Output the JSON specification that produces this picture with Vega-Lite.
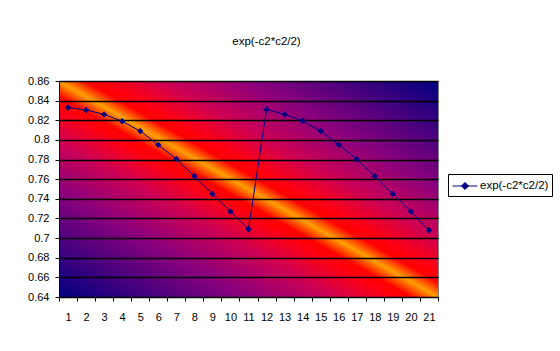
{
  "$schema": "https://vega.github.io/schema/vega-lite/v6.json",
  "width": 379,
  "height": 216,
  "autosize": {"type": "none"},
  "padding": {"left": 59, "top": 81, "right": 122, "bottom": 54},
  "background": "white",
  "data": {
    "values": [
      {"c": 1, "v": 0.833, "series": "exp(-c2*c2/2)"},
      {"c": 2, "v": 0.8305, "series": "exp(-c2*c2/2)"},
      {"c": 3, "v": 0.826, "series": "exp(-c2*c2/2)"},
      {"c": 4, "v": 0.819, "series": "exp(-c2*c2/2)"},
      {"c": 5, "v": 0.809, "series": "exp(-c2*c2/2)"},
      {"c": 6, "v": 0.795, "series": "exp(-c2*c2/2)"},
      {"c": 7, "v": 0.7805, "series": "exp(-c2*c2/2)"},
      {"c": 8, "v": 0.763, "series": "exp(-c2*c2/2)"},
      {"c": 9, "v": 0.745, "series": "exp(-c2*c2/2)"},
      {"c": 10, "v": 0.727, "series": "exp(-c2*c2/2)"},
      {"c": 11, "v": 0.709, "series": "exp(-c2*c2/2)"},
      {"c": 12, "v": 0.831, "series": "exp(-c2*c2/2)"},
      {"c": 13, "v": 0.826, "series": "exp(-c2*c2/2)"},
      {"c": 14, "v": 0.8195, "series": "exp(-c2*c2/2)"},
      {"c": 15, "v": 0.809, "series": "exp(-c2*c2/2)"},
      {"c": 16, "v": 0.795, "series": "exp(-c2*c2/2)"},
      {"c": 17, "v": 0.7805, "series": "exp(-c2*c2/2)"},
      {"c": 18, "v": 0.763, "series": "exp(-c2*c2/2)"},
      {"c": 19, "v": 0.745, "series": "exp(-c2*c2/2)"},
      {"c": 20, "v": 0.727, "series": "exp(-c2*c2/2)"},
      {"c": 21, "v": 0.708, "series": "exp(-c2*c2/2)"}
    ]
  },
  "title": {
    "text": "exp(-c2*c2/2)",
    "font": "Liberation Sans",
    "fontSize": 11.5,
    "fontWeight": "normal",
    "color": "black",
    "anchor": "middle",
    "frame": "group",
    "baseline": "bottom",
    "offset": 17,
    "dx": 18
  },
  "view": {
    "stroke": "#808080",
    "strokeWidth": 1,
    "fill": {
      "gradient": "linear",
      "x1": 0, "y1": 1, "x2": 1, "y2": 0,
      "stops": [
        {"offset": 0, "color": "#000080"},
        {"offset": 0.25, "color": "#8c007c"},
        {"offset": 0.36, "color": "#cc0055"},
        {"offset": 0.44, "color": "#ff0010"},
        {"offset": 0.465, "color": "#ff0000"},
        {"offset": 0.5, "color": "#ffa000"},
        {"offset": 0.535, "color": "#ff0000"},
        {"offset": 0.56, "color": "#ff0010"},
        {"offset": 0.64, "color": "#cc0055"},
        {"offset": 0.75, "color": "#8c007c"},
        {"offset": 1, "color": "#000080"}
      ]
    }
  },
  "encoding": {
    "x": {
      "field": "c",
      "type": "ordinal",
      "scale": {"type": "band", "paddingInner": 0, "paddingOuter": 0},
      "axis": {
        "title": null,
        "labelAngle": 0,
        "tickBand": "extent",
        "tickSize": 4,
        "tickColor": "black",
        "domainColor": "black",
        "labelFont": "Liberation Sans",
        "labelFontSize": 11,
        "labelColor": "black",
        "labelPadding": 10,
        "grid": false
      }
    },
    "y": {
      "field": "v",
      "type": "quantitative",
      "scale": {"domain": [0.64, 0.86], "nice": false, "zero": false},
      "axis": {
        "title": null,
        "values": [0.64, 0.66, 0.68, 0.7, 0.72, 0.74, 0.76, 0.78, 0.8, 0.82, 0.84, 0.86],
        "format": ".2~f",
        "tickSize": 4,
        "tickColor": "black",
        "domainColor": "black",
        "labelFont": "Liberation Sans",
        "labelFontSize": 11,
        "labelColor": "black",
        "labelPadding": 6,
        "grid": true,
        "gridColor": "black",
        "gridWidth": 1.3,
        "gridOpacity": 1
      }
    }
  },
  "layer": [
    {
      "mark": {"type": "line", "strokeWidth": 1},
      "encoding": {
        "color": {
          "field": "series",
          "type": "nominal",
          "scale": {"range": ["#000080"]},
          "legend": {
            "title": null,
            "orient": "none",
            "legendX": 389,
            "legendY": 93,
            "strokeColor": "black",
            "fillColor": "white",
            "padding": 3.5,
            "symbolType": "M-1.56,0H1.56M0,-0.44L0.44,0L0,0.44L-0.44,0Z",
            "symbolSize": 256,
            "symbolStrokeWidth": 1,
            "symbolOffset": 5,
            "labelOffset": 6.5,
            "labelFont": "Liberation Sans",
            "labelFontSize": 11.5,
            "labelColor": "black",
            "encode": {
              "symbols": {
                "update": {
                  "fill": {"value": "#000080"},
                  "stroke": {"value": "#000080"},
                  "opacity": {"value": 1}
                }
              }
            }
          }
        }
      }
    },
    {
      "mark": {"type": "point", "shape": "diamond", "filled": true, "size": 40, "color": "#000080", "opacity": 1}
    }
  ]
}
